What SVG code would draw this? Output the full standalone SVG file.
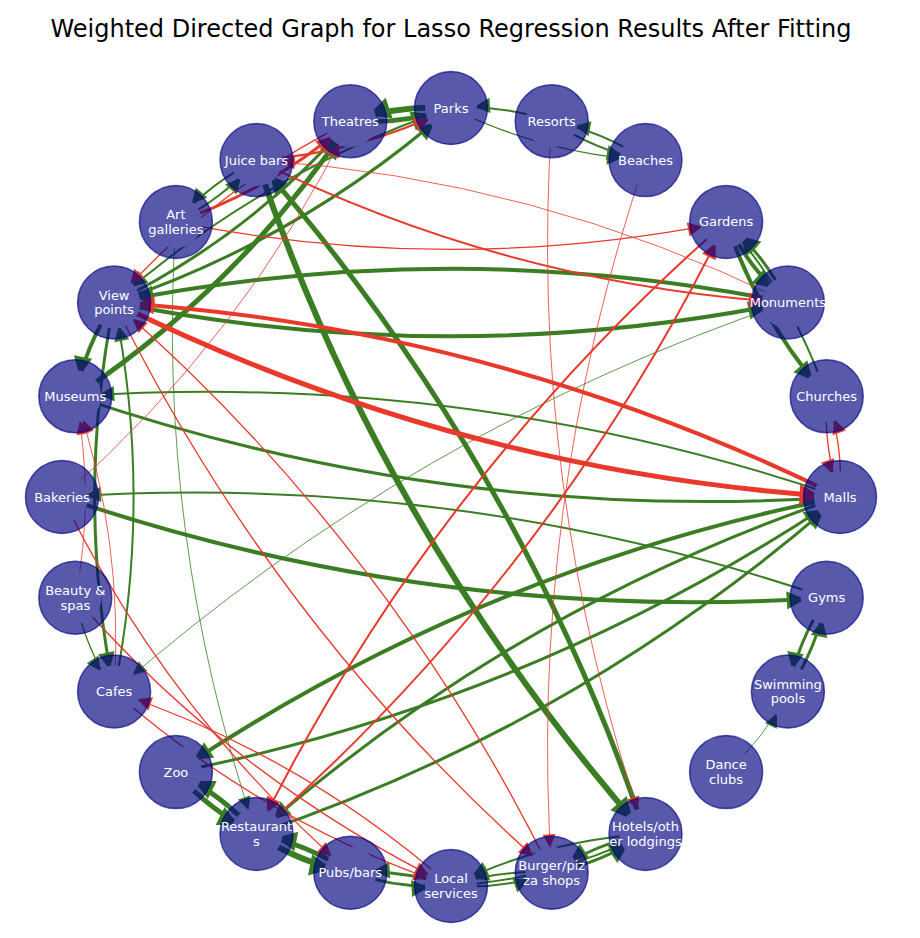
<svg xmlns="http://www.w3.org/2000/svg" width="920" height="938" viewBox="0 0 920 938">
<style>
.e{fill:none;stroke-linecap:butt}
.g{stroke:#3a7d22}
.r{stroke:#e8392b}
.a{stroke-width:0.8}.b{stroke-width:1.3}.c{stroke-width:2}.d{stroke-width:3}.h{stroke-width:4}.f{stroke-width:5}.s{stroke-width:6}
.g.a{marker-end:url(#ga)}.g.b{marker-end:url(#gb)}.g.c{marker-end:url(#gc)}.g.d{marker-end:url(#gd)}.g.h{marker-end:url(#gh)}.g.f{marker-end:url(#gf)}.g.s{marker-end:url(#gs)}
.r.a{marker-end:url(#ra)}.r.b{marker-end:url(#rb)}.r.c{marker-end:url(#rc)}.r.d{marker-end:url(#rd)}.r.h{marker-end:url(#rh)}.r.f{marker-end:url(#rf)}
.n circle{fill:#000080;fill-opacity:0.65;stroke:#000080;stroke-opacity:0.65;stroke-width:1.5}
.n text{font-family:"DejaVu Sans","Liberation Sans",sans-serif;font-size:13px;fill:#ffffff;text-anchor:middle}
.t{font-family:"DejaVu Sans","Liberation Sans",sans-serif;font-size:24px;fill:#000;text-anchor:middle}
</style>
<defs>
<marker id="ga" markerUnits="userSpaceOnUse" orient="auto" refX="26" refY="0" markerWidth="1" markerHeight="1" overflow="visible"><path d="M-12,-6L0,0L-12,6Z" fill="#3a7d22" stroke="#3a7d22" stroke-width="0.8"/></marker>
<marker id="gb" markerUnits="userSpaceOnUse" orient="auto" refX="26" refY="0" markerWidth="1" markerHeight="1" overflow="visible"><path d="M-12,-6L0,0L-12,6Z" fill="#3a7d22" stroke="#3a7d22" stroke-width="1.3"/></marker>
<marker id="gc" markerUnits="userSpaceOnUse" orient="auto" refX="26" refY="0" markerWidth="1" markerHeight="1" overflow="visible"><path d="M-12,-6L0,0L-12,6Z" fill="#3a7d22" stroke="#3a7d22" stroke-width="2"/></marker>
<marker id="gd" markerUnits="userSpaceOnUse" orient="auto" refX="26" refY="0" markerWidth="1" markerHeight="1" overflow="visible"><path d="M-12,-6L0,0L-12,6Z" fill="#3a7d22" stroke="#3a7d22" stroke-width="3"/></marker>
<marker id="gh" markerUnits="userSpaceOnUse" orient="auto" refX="26" refY="0" markerWidth="1" markerHeight="1" overflow="visible"><path d="M-12,-6L0,0L-12,6Z" fill="#3a7d22" stroke="#3a7d22" stroke-width="4"/></marker>
<marker id="gf" markerUnits="userSpaceOnUse" orient="auto" refX="26" refY="0" markerWidth="1" markerHeight="1" overflow="visible"><path d="M-12,-6L0,0L-12,6Z" fill="#3a7d22" stroke="#3a7d22" stroke-width="5"/></marker>
<marker id="gs" markerUnits="userSpaceOnUse" orient="auto" refX="26" refY="0" markerWidth="1" markerHeight="1" overflow="visible"><path d="M-12,-6L0,0L-12,6Z" fill="#3a7d22" stroke="#3a7d22" stroke-width="6"/></marker>
<marker id="ra" markerUnits="userSpaceOnUse" orient="auto" refX="26" refY="0" markerWidth="1" markerHeight="1" overflow="visible"><path d="M-12,-6L0,0L-12,6Z" fill="#e8392b" stroke="#e8392b" stroke-width="0.8"/></marker>
<marker id="rb" markerUnits="userSpaceOnUse" orient="auto" refX="26" refY="0" markerWidth="1" markerHeight="1" overflow="visible"><path d="M-12,-6L0,0L-12,6Z" fill="#e8392b" stroke="#e8392b" stroke-width="1.3"/></marker>
<marker id="rc" markerUnits="userSpaceOnUse" orient="auto" refX="26" refY="0" markerWidth="1" markerHeight="1" overflow="visible"><path d="M-12,-6L0,0L-12,6Z" fill="#e8392b" stroke="#e8392b" stroke-width="2"/></marker>
<marker id="rd" markerUnits="userSpaceOnUse" orient="auto" refX="26" refY="0" markerWidth="1" markerHeight="1" overflow="visible"><path d="M-12,-6L0,0L-12,6Z" fill="#e8392b" stroke="#e8392b" stroke-width="3"/></marker>
<marker id="rh" markerUnits="userSpaceOnUse" orient="auto" refX="26" refY="0" markerWidth="1" markerHeight="1" overflow="visible"><path d="M-12,-6L0,0L-12,6Z" fill="#e8392b" stroke="#e8392b" stroke-width="4"/></marker>
<marker id="rf" markerUnits="userSpaceOnUse" orient="auto" refX="26" refY="0" markerWidth="1" markerHeight="1" overflow="visible"><path d="M-12,-6L0,0L-12,6Z" fill="#e8392b" stroke="#e8392b" stroke-width="5"/></marker>
<mask id="cut" maskUnits="userSpaceOnUse" x="0" y="0" width="920" height="938">
<rect x="0" y="0" width="920" height="938" fill="#fff"/>
<g fill="#000">
<circle cx="840" cy="497" r="26"/><circle cx="826.7" cy="396.3" r="26"/><circle cx="787.9" cy="302.5" r="26"/><circle cx="726.1" cy="221.9" r="26"/><circle cx="645.5" cy="160.1" r="26"/><circle cx="551.7" cy="121.3" r="26"/><circle cx="451" cy="108" r="26"/><circle cx="350.3" cy="121.3" r="26"/><circle cx="256.5" cy="160.1" r="26"/><circle cx="175.9" cy="221.9" r="26"/><circle cx="114.1" cy="302.5" r="26"/><circle cx="75.3" cy="396.3" r="26"/><circle cx="62" cy="497" r="26"/><circle cx="75.3" cy="597.7" r="26"/><circle cx="114.1" cy="691.5" r="26"/><circle cx="175.9" cy="772.1" r="26"/><circle cx="256.5" cy="833.9" r="26"/><circle cx="350.3" cy="872.7" r="26"/><circle cx="451" cy="886" r="26"/><circle cx="551.7" cy="872.7" r="26"/><circle cx="645.5" cy="833.9" r="26"/><circle cx="726.1" cy="772.1" r="26"/><circle cx="787.9" cy="691.5" r="26"/><circle cx="826.7" cy="597.7" r="26"/>
</g>
</mask>
</defs>
<rect x="0" y="0" width="920" height="938" fill="#fff"/>
<text class="t" x="451" y="37">Weighted Directed Graph for Lasso Regression Results After Fitting</text>
<g id="edges" mask="url(#cut)">
<path class="e g s" d="M451 108Q399.3 104.6 350.3 121.3"/>
<path class="e g f" d="M350.3 121.3Q402 124.7 451 108"/>
<path class="e g c" d="M551.7 121.3Q502.7 104.6 451 108"/>
<path class="e g b" d="M451 108Q543 153.5 645.5 160.1"/>
<path class="e g c" d="M551.7 121.3Q594.7 150.1 645.5 160.1"/>
<path class="e g c" d="M645.5 160.1Q602.5 131.3 551.7 121.3"/>
<path class="e g h" d="M726.1 221.9Q748.9 268.4 787.9 302.5"/>
<path class="e g d" d="M787.9 302.5Q765.1 256 726.1 221.9"/>
<path class="e g h" d="M726.1 221.9Q759 319.2 826.7 396.3"/>
<path class="e g c" d="M826.7 396.3Q793.8 299 726.1 221.9"/>
<path class="e g h" d="M787.9 302.5Q451 235.1 114.1 302.5"/>
<path class="e g h" d="M114.1 302.5Q451 369.9 787.9 302.5"/>
<path class="e g d" d="M75.3 396.3Q447.6 523.2 840 497"/>
<path class="e g c" d="M840 497Q467.7 370.2 75.3 396.3"/>
<path class="e g h" d="M62 497Q434.3 623.8 826.7 597.7"/>
<path class="e g c" d="M826.7 597.7Q454.4 470.9 62 497"/>
<path class="e g d" d="M826.7 597.7Q797.9 640.7 787.9 691.5"/>
<path class="e g d" d="M787.9 691.5Q816.7 648.5 826.7 597.7"/>
<path class="e g a" d="M726.1 772.1Q765.1 738 787.9 691.5"/>
<path class="e g d" d="M175.9 772.1Q535.5 701 840 497"/>
<path class="e g h" d="M840 497Q480.5 568.2 175.9 772.1"/>
<path class="e g d" d="M256.5 833.9Q581.9 723.8 840 497"/>
<path class="e g d" d="M840 497Q514.6 607.1 256.5 833.9"/>
<path class="e g s" d="M256.5 160.1Q383.6 535.9 645.5 833.9"/>
<path class="e g f" d="M645.5 833.9Q518.4 458.1 256.5 160.1"/>
<path class="e g f" d="M175.9 772.1Q210 811.1 256.5 833.9"/>
<path class="e g f" d="M256.5 833.9Q222.4 794.9 175.9 772.1"/>
<path class="e g s" d="M256.5 833.9Q299.5 862.7 350.3 872.7"/>
<path class="e g f" d="M350.3 872.7Q307.3 843.9 256.5 833.9"/>
<path class="e g d" d="M350.3 872.7Q399.3 889.4 451 886"/>
<path class="e g d" d="M451 886Q402 869.3 350.3 872.7"/>
<path class="e g c" d="M451 886Q502.7 889.4 551.7 872.7"/>
<path class="e g c" d="M551.7 872.7Q500 869.3 451 886"/>
<path class="e g d" d="M551.7 872.7Q602.5 862.7 645.5 833.9"/>
<path class="e g d" d="M645.5 833.9Q594.7 843.9 551.7 872.7"/>
<path class="e g c" d="M645.5 833.9Q543 840.5 451 886"/>
<path class="e g c" d="M451 886Q553.5 879.4 645.5 833.9"/>
<path class="e g f" d="M75.3 396.3Q240.3 286.3 350.3 121.3"/>
<path class="e g d" d="M114.1 302.5Q302 238.9 451 108"/>
<path class="e g c" d="M451 108Q263.1 171.6 114.1 302.5"/>
<path class="e g h" d="M114.1 302.5Q85.3 345.5 75.3 396.3"/>
<path class="e g d" d="M114.1 302.5Q75.2 497 114.1 691.5"/>
<path class="e g c" d="M114.1 691.5Q153 497 114.1 302.5"/>
<path class="e g a" d="M787.9 302.5Q412.1 429.6 114.1 691.5"/>
<path class="e g b" d="M75.3 597.7Q85.3 648.5 114.1 691.5"/>
<path class="e g c" d="M175.9 221.9Q222.4 199.1 256.5 160.1"/>
<path class="e g c" d="M256.5 160.1Q210 182.9 175.9 221.9"/>
<path class="e g a" d="M175.9 221.9Q155 536 256.5 833.9"/>
<path class="e g d" d="M114.1 302.5Q250.3 235.5 350.3 121.3"/>
<path class="e r f" d="M114.1 302.5Q457.6 472.4 840 497"/>
<path class="e r h" d="M840 497Q496.4 327.2 114.1 302.5"/>
<path class="e r b" d="M175.9 221.9Q451 276.9 726.1 221.9"/>
<path class="e r c" d="M256.5 160.1Q508 284.4 787.9 302.5"/>
<path class="e r a" d="M787.9 302.5Q536.4 178.2 256.5 160.1"/>
<path class="e r c" d="M256.5 833.9Q552.5 574.9 726.1 221.9"/>
<path class="e r c" d="M726.1 221.9Q430.1 481 256.5 833.9"/>
<path class="e r a" d="M551.7 121.3Q527.3 487 645.5 833.9"/>
<path class="e r a" d="M645.5 160.1Q527.3 507 551.7 872.7"/>
<path class="e r b" d="M826.7 396.3Q823.3 448 840 497"/>
<path class="e r b" d="M840 497Q843.4 445.3 826.7 396.3"/>
<path class="e r a" d="M114.1 691.5Q124.2 540 75.3 396.3"/>
<path class="e r a" d="M75.3 597.7Q95.4 497 75.3 396.3"/>
<path class="e r a" d="M62 497Q243.7 338 350.3 121.3"/>
<path class="e r b" d="M62 497Q168.6 713.7 350.3 872.7"/>
<path class="e r b" d="M75.3 597.7Q234.3 779.4 451 886"/>
<path class="e r b" d="M114.1 691.5Q263.1 822.4 451 886"/>
<path class="e r b" d="M451 886Q302 755 114.1 691.5"/>
<path class="e r d" d="M175.9 221.9Q273.2 189 350.3 121.3"/>
<path class="e r c" d="M256.5 160.1Q359 153.5 451 108"/>
<path class="e r b" d="M350.3 121.3Q214.1 188.3 114.1 302.5"/>
<path class="e r b" d="M114.1 302.5Q275.9 631.4 551.7 872.7"/>
<path class="e r b" d="M551.7 872.7Q389.9 543.8 114.1 302.5"/>
</g>
<g id="nodes">
<g id="malls" class="n"><circle cx="840" cy="497" r="36.5"/><text x="840" y="501.5">Malls</text></g>
<g id="churches" class="n"><circle cx="826.7" cy="396.3" r="36.5"/><text x="826.7" y="400.8">Churches</text></g>
<g id="monuments" class="n"><circle cx="787.9" cy="302.5" r="36.5"/><text x="787.9" y="307">Monuments</text></g>
<g id="gardens" class="n"><circle cx="726.1" cy="221.9" r="36.5"/><text x="726.1" y="226.4">Gardens</text></g>
<g id="beaches" class="n"><circle cx="645.5" cy="160.1" r="36.5"/><text x="645.5" y="164.6">Beaches</text></g>
<g id="resorts" class="n"><circle cx="551.7" cy="121.3" r="36.5"/><text x="551.7" y="125.8">Resorts</text></g>
<g id="parks" class="n"><circle cx="451" cy="108" r="36.5"/><text x="451" y="112.5">Parks</text></g>
<g id="theatres" class="n"><circle cx="350.3" cy="121.3" r="36.5"/><text x="350.3" y="125.8">Theatres</text></g>
<g id="juice-bars" class="n"><circle cx="256.5" cy="160.1" r="36.5"/><text x="256.5" y="164.6">Juice bars</text></g>
<g id="art-galleries" class="n"><circle cx="175.9" cy="221.9" r="36.5"/><text x="175.9" y="219.2">Art</text><text x="175.9" y="233.7">galleries</text></g>
<g id="view-points" class="n"><circle cx="114.1" cy="302.5" r="36.5"/><text x="114.1" y="299.8">View</text><text x="114.1" y="314.3">points</text></g>
<g id="museums" class="n"><circle cx="75.3" cy="396.3" r="36.5"/><text x="75.3" y="400.8">Museums</text></g>
<g id="bakeries" class="n"><circle cx="62" cy="497" r="36.5"/><text x="62" y="501.5">Bakeries</text></g>
<g id="beauty-spas" class="n"><circle cx="75.3" cy="597.7" r="36.5"/><text x="75.3" y="595">Beauty &amp;</text><text x="75.3" y="609.5">spas</text></g>
<g id="cafes" class="n"><circle cx="114.1" cy="691.5" r="36.5"/><text x="114.1" y="696">Cafes</text></g>
<g id="zoo" class="n"><circle cx="175.9" cy="772.1" r="36.5"/><text x="175.9" y="776.6">Zoo</text></g>
<g id="restaurants" class="n"><circle cx="256.5" cy="833.9" r="36.5"/><text x="256.5" y="831.2">Restaurant</text><text x="256.5" y="845.7">s</text></g>
<g id="pubs-bars" class="n"><circle cx="350.3" cy="872.7" r="36.5"/><text x="350.3" y="877.2">Pubs/bars</text></g>
<g id="local-services" class="n"><circle cx="451" cy="886" r="36.5"/><text x="451" y="883.3">Local</text><text x="451" y="897.8">services</text></g>
<g id="burger-pizza" class="n"><circle cx="551.7" cy="872.7" r="36.5"/><text x="551.7" y="870">Burger/piz</text><text x="551.7" y="884.5">za shops</text></g>
<g id="hotels" class="n"><circle cx="645.5" cy="833.9" r="36.5"/><text x="645.5" y="831.2">Hotels/oth</text><text x="645.5" y="845.7">er lodgings</text></g>
<g id="dance-clubs" class="n"><circle cx="726.1" cy="772.1" r="36.5"/><text x="726.1" y="769.4">Dance</text><text x="726.1" y="783.9">clubs</text></g>
<g id="swimming-pools" class="n"><circle cx="787.9" cy="691.5" r="36.5"/><text x="787.9" y="688.8">Swimming</text><text x="787.9" y="703.3">pools</text></g>
<g id="gyms" class="n"><circle cx="826.7" cy="597.7" r="36.5"/><text x="826.7" y="602.2">Gyms</text></g>
</g>
</svg>
